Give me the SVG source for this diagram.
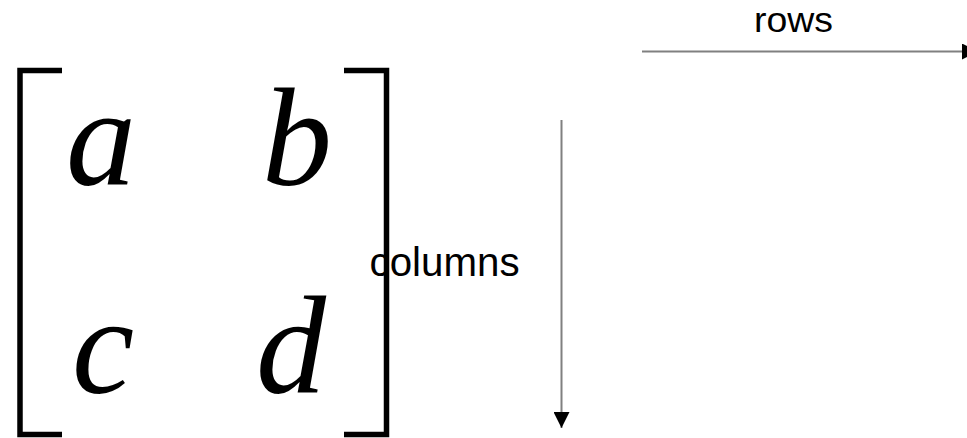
<svg xmlns="http://www.w3.org/2000/svg" width="967" height="438" viewBox="0 0 967 438">
<style>
.m{font-family:"Liberation Serif","Times New Roman",serif;font-style:italic;font-size:140px;fill:#000}
.t{font-family:"Liberation Sans",Arial,sans-serif;fill:#000}
.br{fill:none;stroke:#000;stroke-width:5.5}
.ar{stroke:#808080;stroke-width:2;fill:none}
</style>
<defs>
<marker id="ah" viewBox="0 0 10 10" refX="10" refY="5" markerWidth="8" markerHeight="8" markerUnits="strokeWidth" orient="auto"><path d="M0,0 L10,5 L0,10 Z" fill="#000"/></marker>
</defs>
<g id="matrix">
<path class="br" d="M62,70.5 H20 V434.5 H62"/>
<path class="br" d="M344,70.5 H386.5 V434.5 H344"/>
<text class="m" x="66" y="185">a</text>
<text class="m" x="262" y="185">b</text>
<text class="m" x="72" y="393">c</text>
<text class="m" x="256" y="393">d</text>
</g>
<g id="connectors">
<line class="ar" x1="642" y1="51.5" x2="978" y2="51.5" marker-end="url(#ah)"/>
<line class="ar" x1="561.5" y1="120" x2="561.5" y2="428" marker-end="url(#ah)"/>
</g>
<g id="rows"><text class="t" x="754" y="32" font-size="35" textLength="79" lengthAdjust="spacingAndGlyphs">rows</text></g>
<g id="columns"><text class="t" x="369.5" y="276" font-size="40.3">columns</text></g>
</svg>
